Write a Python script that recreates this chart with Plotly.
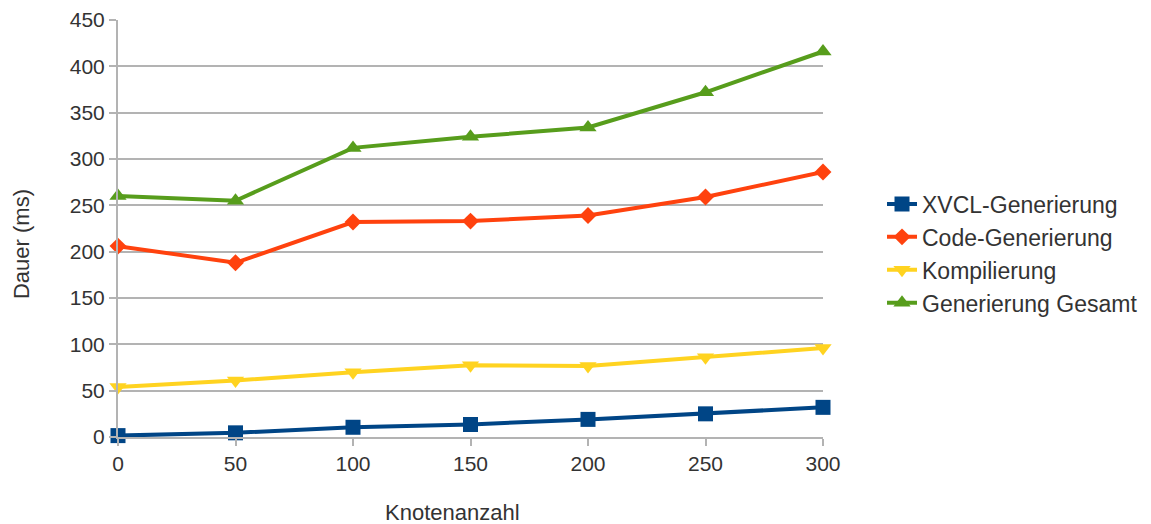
import plotly.graph_objects as go

x_nodes = [0, 50, 100, 150, 200, 250, 300]
xvcl = [1.5, 4.5, 10.5, 13.5, 19, 25, 32]
code = [206, 188, 232, 233, 239, 259, 286]
kompil = [54, 61, 70, 77.5, 76.5, 86, 96]
gesamt = [260, 255, 312, 324, 334, 372, 416]

series_names = ["XVCL-Generierung", "Code-Generierung", "Kompilierung", "Generierung Gesamt"]
series_vals = [xvcl, code, kompil, gesamt]
colors = ["#004586", "#ff420e", "#ffd320", "#579d1c"]
symbols = ["square", "diamond", "triangle-down", "triangle-up"]
sizes = [15, 13, 15, 15]

x_title = "Knotenanzahl"
y_title = "Dauer (ms)"

FONT = "Liberation Sans, Arial, sans-serif"
TXT = "#333333"
GRID = "#b3b3b3"

fig = go.Figure()
for name, vals, c, s, sz in zip(series_names, series_vals, colors, symbols, sizes):
    fig.add_trace(go.Scatter(
        x=x_nodes, y=vals, name=name, mode="lines+markers",
        line=dict(color=c, width=4),
        marker=dict(symbol=s, size=sz, color=c, line=dict(width=0)),
        cliponaxis=False,
    ))

fig.update_layout(
    width=1151, height=524,
    margin=dict(l=118, r=328, t=20, b=87, autoexpand=False),
    paper_bgcolor="white", plot_bgcolor="white",
    font=dict(family=FONT, size=21, color=TXT),
    showlegend=True,
    legend=dict(x=1.0837, xanchor="left", y=0.44, yanchor="middle",
                font=dict(family=FONT, size=23, color=TXT),
                bgcolor="rgba(0,0,0,0)", tracegroupgap=0, itemwidth=30),
    annotations=[
        dict(text=x_title, xref="paper", yref="paper", x=0.4738, y=-0.182,
             xanchor="center", yanchor="middle", showarrow=False,
             font=dict(family=FONT, size=22, color=TXT)),
        dict(text=y_title, xref="paper", yref="paper", x=-0.136, y=0.463,
             xanchor="center", yanchor="middle", showarrow=False, textangle=-90,
             font=dict(family=FONT, size=22, color=TXT)),
    ],
)
fig.update_xaxes(
    range=[0, 300], tickvals=x_nodes, ticks="outside", ticklen=7, tickwidth=2,
    tickcolor=GRID, showline=True, linecolor=GRID, linewidth=2,
    showgrid=False, zeroline=False, automargin=False,
    tickfont=dict(family=FONT, size=21, color=TXT),
)
fig.update_yaxes(
    range=[0, 450], dtick=50, ticks="outside", ticklen=7, tickwidth=2,
    tickcolor=GRID, showline=True, linecolor=GRID, linewidth=2,
    showgrid=True, gridcolor=GRID, gridwidth=2, zeroline=False, automargin=False,
    tickfont=dict(family=FONT, size=21, color=TXT),
)

fig.write_html("out.html")
